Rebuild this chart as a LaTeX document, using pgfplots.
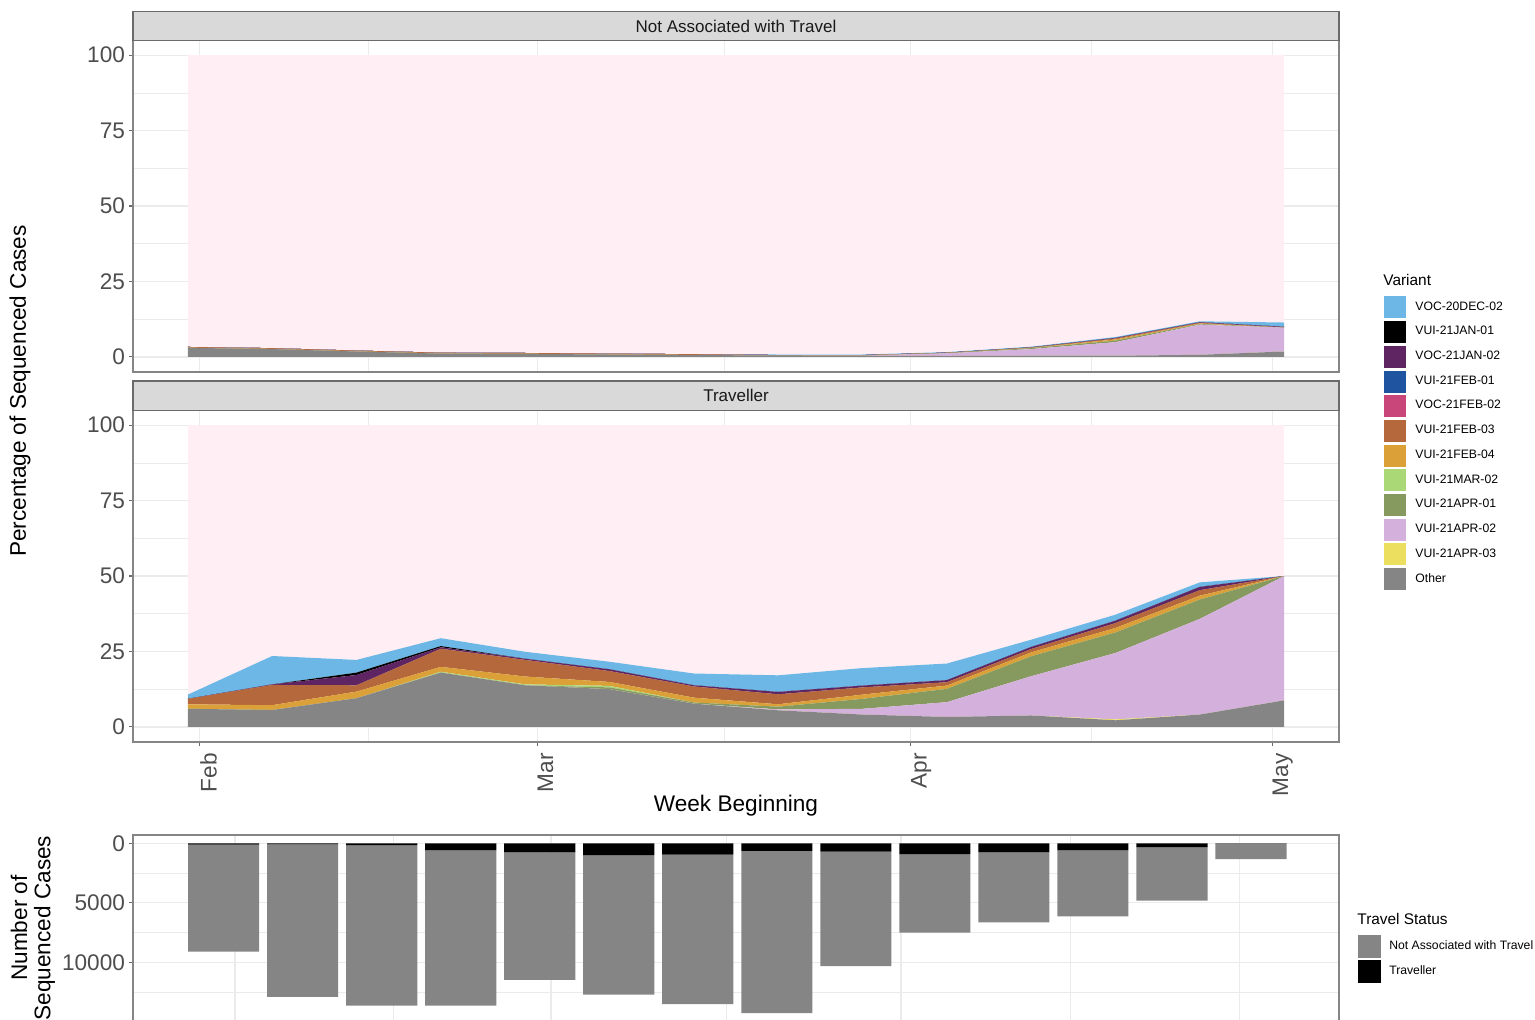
\documentclass[border=0pt]{standalone}
\usepackage{fontspec}
\setmainfont{Liberation Sans}
\usepackage{pgfplots}
\pgfplotsset{compat=1.18}
\usepackage{pgfplotstable}

\definecolor{cDEC02}{HTML}{6CB7E5}
\definecolor{cJAN01}{HTML}{000000}
\definecolor{cJAN02}{HTML}{5F2563}
\definecolor{cFEB01}{HTML}{1F55A0}
\definecolor{cFEB02}{HTML}{C8467A}
\definecolor{cFEB03}{HTML}{B5683B}
\definecolor{cFEB04}{HTML}{DCA039}
\definecolor{cMAR02}{HTML}{AAD876}
\definecolor{cAPR01}{HTML}{869A5F}
\definecolor{cAPR02}{HTML}{D4B0DC}
\definecolor{cAPR03}{HTML}{ECDF5F}
\definecolor{cOther}{HTML}{858585}
\definecolor{cPink}{HTML}{FFEEF3}
\definecolor{gridc}{HTML}{EBEBEB}
\definecolor{framec}{HTML}{858585}
\definecolor{stripl}{HTML}{6A6A6A}
\definecolor{tickc}{HTML}{4D4D4D}
\definecolor{stripc}{HTML}{D9D9D9}

% x = days after 1 Feb 2021 (week beginning)
\pgfplotstableread{
x  other apr03 apr02 apr01 mar02 feb04 feb03 feb02 feb01 jan02 jan01 dec02 pink
-1 3.0 0 0 0 0 0 0.3 0 0 0 0 0 96.7
6  2.6 0 0 0 0 0 0.3 0 0 0 0 0 97.1
13 1.8 0 0 0 0 0 0.3 0 0 0 0 0 97.9
20 1.1 0 0 0 0 0 0.3 0 0 0 0 0 98.6
27 1.0 0 0 0 0 0 0.3 0 0 0 0 0 98.7
34 0.8 0 0 0 0 0 0.3 0 0 0 0 0 98.9
41 0.6 0 0 0 0 0 0.3 0 0 0 0 0 99.1
48 0.5 0 0 0 0 0 0.1 0 0 0 0 0.2 99.2
55 0.4 0 0.1 0 0 0 0.1 0 0 0 0 0.2 99.2
62 0.3 0 0.9 0.1 0 0 0.1 0 0 0 0 0.2 98.4
69 0.4 0 2.2 0.3 0 0.1 0.1 0 0 0.1 0 0.2 96.6
76 0.4 0 4.5 0.5 0 0.4 0.3 0 0 0.2 0 0.3 93.4
83 0.7 0 10.0 0.2 0 0.2 0.2 0 0 0.2 0 0.3 88.2
90 1.8 0 7.9 0 0 0 0.1 0 0 0.2 0 1.4 88.6
}\nat

\pgfplotstableread{
x  other apr03 apr02 apr01 mar02 feb04 feb03 feb02 feb01 jan02 jan01 dec02 pink
-1 6.0 0 0 0 0 1.5 1.8 0 0 0 0 1.4 89.3
6  5.6 0 0 0 0 1.6 6.7 0 0 0.2 0 9.4 76.5
13 9.5 0 0 0 0 2.2 2.1 0 0 3.4 0.8 4.2 77.8
20 18.0 0 0 0 0.3 1.6 6.0 0 0 0.5 0.4 2.6 70.6
27 13.8 0 0 0 0.3 2.6 5.5 0 0 0.4 0 2.3 75.1
34 12.5 0 0 0.6 0.5 1.3 3.6 0 0 0.6 0 2.5 78.4
41 7.7 0 0 0.4 0 1.6 3.7 0 0 0.4 0 3.9 82.3
48 5.5 0 0.3 0.9 0 0.8 3.3 0 0 0.8 0 5.5 82.9
55 4.1 0 1.9 3.3 0 1.4 2.4 0 0 0.6 0 5.8 80.5
62 3.3 0 4.9 4.4 0 1.1 1.1 0 0 0.7 0 5.5 79.0
69 3.8 0 13.0 6.6 0 1.3 1.1 0 0 0.7 0 2.4 71.1
76 2.2 0.3 22.0 6.8 0 1.5 1.6 0 0 0.8 0 2.0 62.8
83 4.1 0 31.7 6.4 0 1.3 1.8 0 0 1.1 0 1.5 52.1
90 8.8 0 41.2 0 0 0 0 0 0 0 0 0 50.0
}\trav

\pgfplotstableread{
x  trav nat
-1 100 9000
6  80 12810
13 150 13490
20 560 13080
27 760 10720
34 980 11740
41 950 12550
48 640 13620
55 700 9610
62 900 6610
69 760 5880
76 560 5570
83 310 4510
90 20 1300
}\bars

\pgfplotsset{
  gg/.style={
    scale only axis, width=603pt,
    axis line style={framec, line width=0.6pt},
    grid=both,
    major grid style={gridc, line width=0.6pt},
    minor grid style={gridc, line width=0.3pt},
    tick align=outside, major tick length=2pt, minor tick length=0pt,
    tick style={stripl, line width=0.55pt},
    xtick pos=bottom, ytick pos=left,
    tick label style={font=\fontsize{11.3}{13}\selectfont, text=tickc},
    yticklabel style={xshift=1.5pt},
    /pgf/number format/assume math mode=true,
    /pgf/number format/1000 sep={},
    scaled ticks=false,
    xtick={0,28,59,89}, minor xtick={14,43.5,74},
  },
  facet/.style={gg, height=166pt,
    xmin=-5.55, xmax=94.55, ymin=-5, ymax=105,
    ytick={0,25,50,75,100}, minor ytick={12.5,37.5,62.5,87.5},
    stack plots=y,
    legend image code/.code={\fill[##1] (0pt,-5.5pt) rectangle (11pt,5.5pt); \path (13.5pt,0pt);},
  },
}

\begin{document}
\begin{tikzpicture}
% ---------- Not associated with travel ----------
\begin{axis}[facet, at={(66.5pt,-186pt)}, anchor=south west,
  xticklabels={}, xtick style={draw=none}]
\addplot[fill=cOther, draw=none] table[x=x,y=other]{\nat} \closedcycle;
\addplot[fill=cAPR03, draw=none] table[x=x,y=apr03]{\nat} \closedcycle;
\addplot[fill=cAPR02, draw=none] table[x=x,y=apr02]{\nat} \closedcycle;
\addplot[fill=cAPR01, draw=none] table[x=x,y=apr01]{\nat} \closedcycle;
\addplot[fill=cMAR02, draw=none] table[x=x,y=mar02]{\nat} \closedcycle;
\addplot[fill=cFEB04, draw=none] table[x=x,y=feb04]{\nat} \closedcycle;
\addplot[fill=cFEB03, draw=none] table[x=x,y=feb03]{\nat} \closedcycle;
\addplot[fill=cFEB02, draw=none] table[x=x,y=feb02]{\nat} \closedcycle;
\addplot[fill=cFEB01, draw=none] table[x=x,y=feb01]{\nat} \closedcycle;
\addplot[fill=cJAN02, draw=none] table[x=x,y=jan02]{\nat} \closedcycle;
\addplot[fill=cJAN01, draw=none] table[x=x,y=jan01]{\nat} \closedcycle;
\addplot[fill=cDEC02, draw=none] table[x=x,y=dec02]{\nat} \closedcycle;
\addplot[fill=cPink, draw=none] table[x=x,y=pink]{\nat} \closedcycle;
\end{axis}

% ---------- Traveller ----------
\begin{axis}[facet, at={(66.5pt,-371pt)}, anchor=south west,
  xticklabels={Feb,Mar,Apr,May},
  xticklabel style={rotate=90, anchor=north east, inner sep=0pt, xshift=-3.5pt},
  reverse legend,
  legend style={at={(1.0373,1.3434)}, anchor=north west, draw=none, fill=none,
    font=\fontsize{6.1}{7}\selectfont, row sep=1.35pt, inner sep=0pt,
    cells={anchor=west}},
  legend cell align=left]
\addplot[fill=cOther, draw=none] table[x=x,y=other]{\trav} \closedcycle; \addlegendentry{Other}
\addplot[fill=cAPR03, draw=none] table[x=x,y=apr03]{\trav} \closedcycle; \addlegendentry{VUI-21APR-03}
\addplot[fill=cAPR02, draw=none] table[x=x,y=apr02]{\trav} \closedcycle; \addlegendentry{VUI-21APR-02}
\addplot[fill=cAPR01, draw=none] table[x=x,y=apr01]{\trav} \closedcycle; \addlegendentry{VUI-21APR-01}
\addplot[fill=cMAR02, draw=none] table[x=x,y=mar02]{\trav} \closedcycle; \addlegendentry{VUI-21MAR-02}
\addplot[fill=cFEB04, draw=none] table[x=x,y=feb04]{\trav} \closedcycle; \addlegendentry{VUI-21FEB-04}
\addplot[fill=cFEB03, draw=none] table[x=x,y=feb03]{\trav} \closedcycle; \addlegendentry{VUI-21FEB-03}
\addplot[fill=cFEB02, draw=none] table[x=x,y=feb02]{\trav} \closedcycle; \addlegendentry{VOC-21FEB-02}
\addplot[fill=cFEB01, draw=none] table[x=x,y=feb01]{\trav} \closedcycle; \addlegendentry{VUI-21FEB-01}
\addplot[fill=cJAN02, draw=none] table[x=x,y=jan02]{\trav} \closedcycle; \addlegendentry{VOC-21JAN-02}
\addplot[fill=cJAN01, draw=none] table[x=x,y=jan01]{\trav} \closedcycle; \addlegendentry{VUI-21JAN-01}
\addplot[fill=cDEC02, draw=none] table[x=x,y=dec02]{\trav} \closedcycle; \addlegendentry{VOC-20DEC-02}
\addplot[fill=cPink, draw=none, forget plot] table[x=x,y=pink]{\trav} \closedcycle;
\end{axis}

% ---------- Number of sequenced cases ----------
\begin{axis}[gg, height=93.25pt, at={(66.5pt,-510.75pt)}, anchor=south west,
  xmin=-9.03, xmax=97.8, y dir=reverse, ymin=-700, ymax=14970,
  ytick={0,5000,10000,15000}, minor ytick={2500,7500,12500},
  xticklabels={}, xtick style={draw=none},
  ybar stacked, bar width=6.3,
  legend style={at={(1.0158,0.4638)}, anchor=north west, draw=none, fill=none,
    font=\fontsize{6.1}{7}\selectfont, row sep=1.1pt, inner sep=0pt,
    cells={anchor=west}},
  legend cell align=left]
\addplot[fill=black, draw=none, forget plot] table[x=x,y=trav]{\bars};
\addplot[fill=cOther, draw=none, forget plot] table[x=x,y=nat]{\bars};
\addlegendimage{legend image code/.code={\fill[cOther] (0pt,-5.5pt) rectangle (11pt,5.5pt); \path (13pt,0pt);}}
\addlegendentry{Not Associated with Travel}
\addlegendimage{legend image code/.code={\fill[black] (0pt,-5.5pt) rectangle (11pt,5.5pt); \path (13pt,0pt);}}
\addlegendentry{Traveller}
\end{axis}

% ---------- strips, titles ----------
\draw[fill=stripc, draw=stripl, line width=0.6pt] (66.5pt,-5.75pt) rectangle (669.5pt,-20.25pt);
\node[text=black!90, font=\fontsize{8.5}{10}\selectfont] at (368pt,-13pt) {Not Associated with Travel};
\draw[fill=stripc, draw=stripl, line width=0.6pt] (66.5pt,-190.5pt) rectangle (669.5pt,-205.25pt);
\node[text=black!90, font=\fontsize{8.5}{10}\selectfont] at (368pt,-197.9pt) {Traveller};

\node[rotate=90, font=\fontsize{11.3}{13}\selectfont] at (10pt,-195.5pt) {Percentage of Sequenced Cases};
\node[font=\fontsize{11.3}{13}\selectfont] at (368pt,-403pt) {Week Beginning};
\node[rotate=90, align=center, font=\fontsize{11.3}{11.6}\selectfont] at (16.5pt,-464pt) {Number of\\Sequenced Cases};

\node[anchor=west, font=\fontsize{7.7}{9}\selectfont, inner sep=0pt] at (691.5pt,-140pt) {Variant};
\node[anchor=west, font=\fontsize{7.7}{9}\selectfont, inner sep=0pt] at (678.5pt,-459.5pt) {Travel Status};

\pgfresetboundingbox
\path[use as bounding box] (0pt,0pt) rectangle (767.5pt,-509.5pt);
\end{tikzpicture}
\end{document}
